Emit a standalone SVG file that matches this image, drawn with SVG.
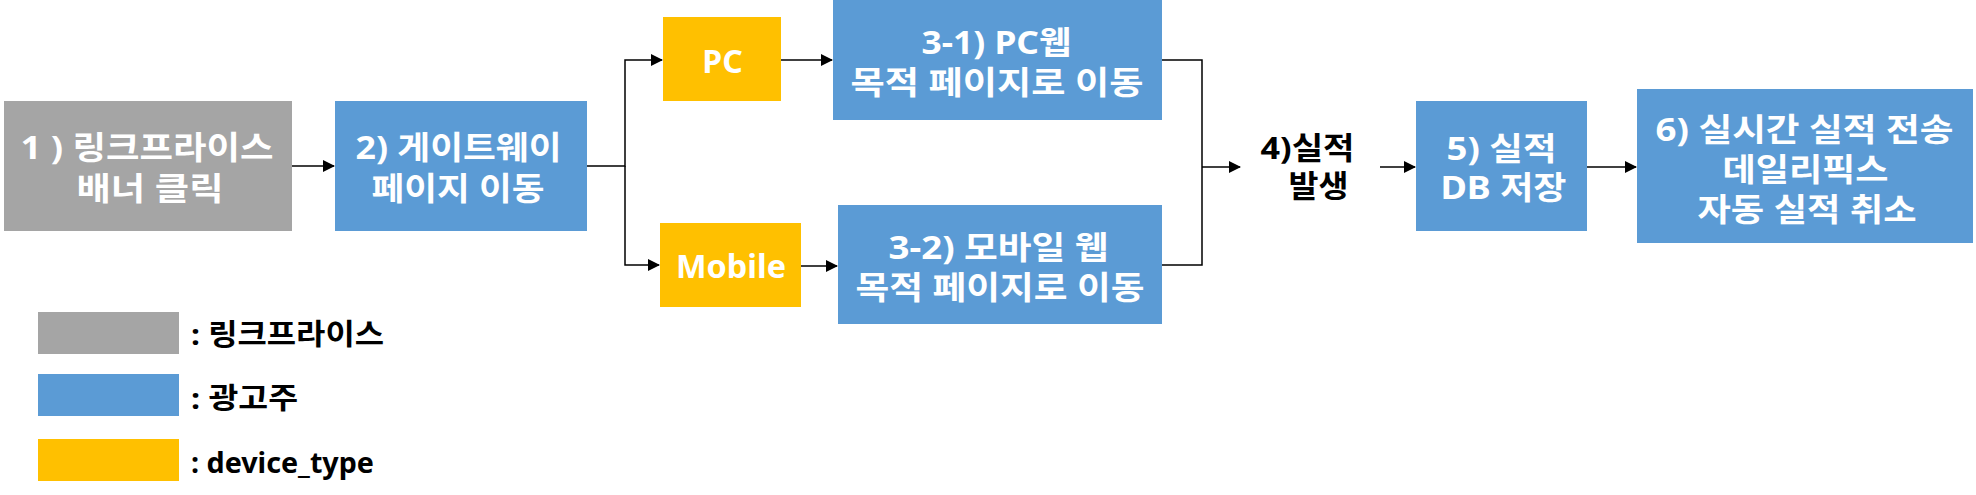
<svg xmlns="http://www.w3.org/2000/svg" width="1976" height="495" viewBox="0 0 1976 495">
<style>
.t{font-family:"Noto Sans","Noto Sans CJK KR",sans-serif;font-weight:bold;text-anchor:middle;dominant-baseline:central}
.w{fill:#fff;font-size:32px}
.k{fill:#000;font-size:31px}
.lg{font-family:"Noto Sans","Noto Sans CJK KR",sans-serif;font-weight:bold;font-size:29px;fill:#000;dominant-baseline:central}
.gray{fill:#A5A5A5}
.blue{fill:#5B9BD5}
.yel{fill:#FFC000}
.c{fill:none;stroke:#000;stroke-width:1.5}
</style>
<defs>
<marker id="ah" markerUnits="userSpaceOnUse" markerWidth="12" markerHeight="12" refX="11" refY="6" orient="auto">
<path d="M0,0 L12,6 L0,12 z" fill="#000"/>
</marker>
</defs>
<g id="connectors">
<path class="c" d="M292 166 H334" marker-end="url(#ah)"/>
<path class="c" d="M587 166 H625 V60 H662" marker-end="url(#ah)"/>
<path class="c" d="M625 166 V265 H659" marker-end="url(#ah)"/>
<path class="c" d="M781 60 H832" marker-end="url(#ah)"/>
<path class="c" d="M801 266 H837" marker-end="url(#ah)"/>
<path class="c" d="M1162 60 H1202 V265 H1162"/>
<path class="c" d="M1202 167 H1240" marker-end="url(#ah)"/>
<path class="c" d="M1380 167 H1415" marker-end="url(#ah)"/>
<path class="c" d="M1587 167 H1636" marker-end="url(#ah)"/>
</g>
<g id="n1"><rect class="gray" x="4" y="101" width="288" height="130"/>
<text class="t w" x="147" y="146" textLength="253" lengthAdjust="spacingAndGlyphs">1 ) 링크프라이스</text>
<text class="t w" x="150" y="187" textLength="147" lengthAdjust="spacingAndGlyphs">배너 클릭</text></g>
<g id="n2"><rect class="blue" x="335" y="101" width="252" height="130"/>
<text class="t w" x="458.5" y="146" textLength="206" lengthAdjust="spacingAndGlyphs">2) 게이트웨이</text>
<text class="t w" x="458" y="187" textLength="173" lengthAdjust="spacingAndGlyphs">페이지 이동</text></g>
<g id="pc"><rect class="yel" x="663" y="17" width="118" height="84"/><text class="t w" x="722.5" y="60">PC</text></g>
<g id="mobile"><rect class="yel" x="660" y="223" width="141" height="84"/><text class="t w" x="731" y="265" textLength="110" lengthAdjust="spacingAndGlyphs">Mobile</text></g>
<g id="n31"><rect class="blue" x="833" y="0" width="329" height="120"/>
<text class="t w" x="996.5" y="41" textLength="150" lengthAdjust="spacingAndGlyphs">3-1) PC웹</text>
<text class="t w" x="997" y="81" textLength="293" lengthAdjust="spacingAndGlyphs">목적 페이지로 이동</text></g>
<g id="n32"><rect class="blue" x="838" y="205" width="324" height="119"/>
<text class="t w" x="998.5" y="246" textLength="220" lengthAdjust="spacingAndGlyphs">3-2) 모바일 웹</text>
<text class="t w" x="1000" y="286" textLength="289" lengthAdjust="spacingAndGlyphs">목적 페이지로 이동</text></g>
<g id="n4">
<text class="t k" x="1307.5" y="147" textLength="94" lengthAdjust="spacingAndGlyphs">4)실적</text>
<text class="t k" x="1318.5" y="185" textLength="60" lengthAdjust="spacingAndGlyphs">발생</text></g>
<g id="n5"><rect class="blue" x="1416" y="101" width="171" height="130"/>
<text class="t w" x="1501.5" y="147" textLength="110" lengthAdjust="spacingAndGlyphs">5) 실적</text>
<text class="t w" x="1503.5" y="186" textLength="126" lengthAdjust="spacingAndGlyphs">DB 저장</text></g>
<g id="n6"><rect class="blue" x="1637" y="89" width="336" height="154"/>
<text class="t w" x="1804.5" y="128" textLength="298" lengthAdjust="spacingAndGlyphs">6) 실시간 실적 전송</text>
<text class="t w" x="1805.5" y="168" textLength="166" lengthAdjust="spacingAndGlyphs">데일리픽스</text>
<text class="t w" x="1807" y="208" textLength="219" lengthAdjust="spacingAndGlyphs">자동 실적 취소</text></g>
<g id="legend">
<rect class="gray" x="38" y="312" width="141" height="42"/><text class="lg" x="191" y="333" textLength="193" lengthAdjust="spacingAndGlyphs">: 링크프라이스</text>
<rect class="blue" x="38" y="374" width="141" height="42"/><text class="lg" x="191" y="397" textLength="107" lengthAdjust="spacingAndGlyphs">: 광고주</text>
<rect class="yel" x="38" y="439" width="141" height="42"/><text class="lg" x="191" y="461" textLength="183" lengthAdjust="spacingAndGlyphs">: device_type</text>
</g>
</svg>
